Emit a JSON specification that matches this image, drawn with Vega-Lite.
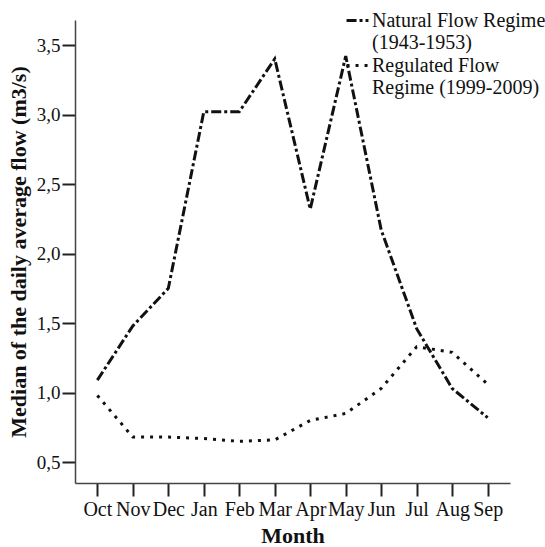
{
  "$schema": "https://vega.github.io/schema/vega-lite/v6.json",
  "width": 435,
  "height": 463,
  "autosize": "none",
  "padding": {"left": 75, "top": 20, "right": 35, "bottom": 64},
  "background": "white",
  "config": {
    "view": {"stroke": null},
    "font": "Liberation Serif",
    "axis": {"grid": false, "domainColor": "#444", "tickColor": "#222", "domainWidth": 1.5, "tickWidth": 2, "tickSize": 13, "labelColor": "#111", "labelFont": "Liberation Serif", "labelFontSize": 19, "titleFont": "Liberation Serif", "titleColor": "#111", "titleFontWeight": "bold", "titleFontSize": 22}
  },
  "data": {
    "values": [
      {"month": "Oct", "series": "Natural", "value": 1.09},
      {"month": "Nov", "series": "Natural", "value": 1.48},
      {"month": "Dec", "series": "Natural", "value": 1.75},
      {"month": "Jan", "series": "Natural", "value": 3.02},
      {"month": "Feb", "series": "Natural", "value": 3.02},
      {"month": "Mar", "series": "Natural", "value": 3.40},
      {"month": "Apr", "series": "Natural", "value": 2.32},
      {"month": "May", "series": "Natural", "value": 3.42},
      {"month": "Jun", "series": "Natural", "value": 2.17},
      {"month": "Jul", "series": "Natural", "value": 1.46},
      {"month": "Aug", "series": "Natural", "value": 1.03},
      {"month": "Sep", "series": "Natural", "value": 0.82},
      {"month": "Oct", "series": "Regulated", "value": 0.98},
      {"month": "Nov", "series": "Regulated", "value": 0.68},
      {"month": "Dec", "series": "Regulated", "value": 0.68},
      {"month": "Jan", "series": "Regulated", "value": 0.67},
      {"month": "Feb", "series": "Regulated", "value": 0.65},
      {"month": "Mar", "series": "Regulated", "value": 0.66},
      {"month": "Apr", "series": "Regulated", "value": 0.80},
      {"month": "May", "series": "Regulated", "value": 0.85},
      {"month": "Jun", "series": "Regulated", "value": 1.03},
      {"month": "Jul", "series": "Regulated", "value": 1.33},
      {"month": "Aug", "series": "Regulated", "value": 1.29},
      {"month": "Sep", "series": "Regulated", "value": 1.06}
    ]
  },
  "mark": {"type": "line", "strokeWidth": 3, "color": "#111", "strokeCap": "butt"},
  "encoding": {
    "x": {
      "field": "month", "type": "ordinal",
      "sort": ["Oct","Nov","Dec","Jan","Feb","Mar","Apr","May","Jun","Jul","Aug","Sep"],
      "scale": {"type": "point", "padding": 0.63},
      "axis": {"title": "Month", "labelAngle": 0, "labelPadding": 3, "labelFontSize": 20, "titlePadding": 6}
    },
    "y": {
      "field": "value", "type": "quantitative",
      "scale": {"domain": [0.35, 3.68], "nice": false, "zero": false},
      "axis": {"title": "Median of the daily average flow (m3/s)", "values": [0.5,1,1.5,2,2.5,3,3.5], "labelExpr": "replace(format(datum.value,'.1f'),'.',',')", "labelPadding": 2, "titlePadding": 6}
    },
    "strokeDash": {
      "field": "series", "type": "nominal",
      "scale": {"domain": ["Natural","Regulated"], "range": [[10,3,3,3],[3,6]]},
      "legend": {
        "title": null, "orient": "none", "legendX": 270, "legendY": -12,
        "symbolType": "stroke", "symbolSize": 480, "symbolStrokeWidth": 3, "symbolStrokeColor": "#111",
        "labelFont": "Liberation Serif", "labelFontSize": 20, "labelColor": "#111", "labelLimit": 300,
        "labelExpr": "datum.label == 'Natural' ? ['Natural Flow Regime','(1943-1953)'] : ['Regulated Flow','Regime (1999-2009)']",
        "rowPadding": -3, "labelOffset": 2
      }
    }
  }
}
